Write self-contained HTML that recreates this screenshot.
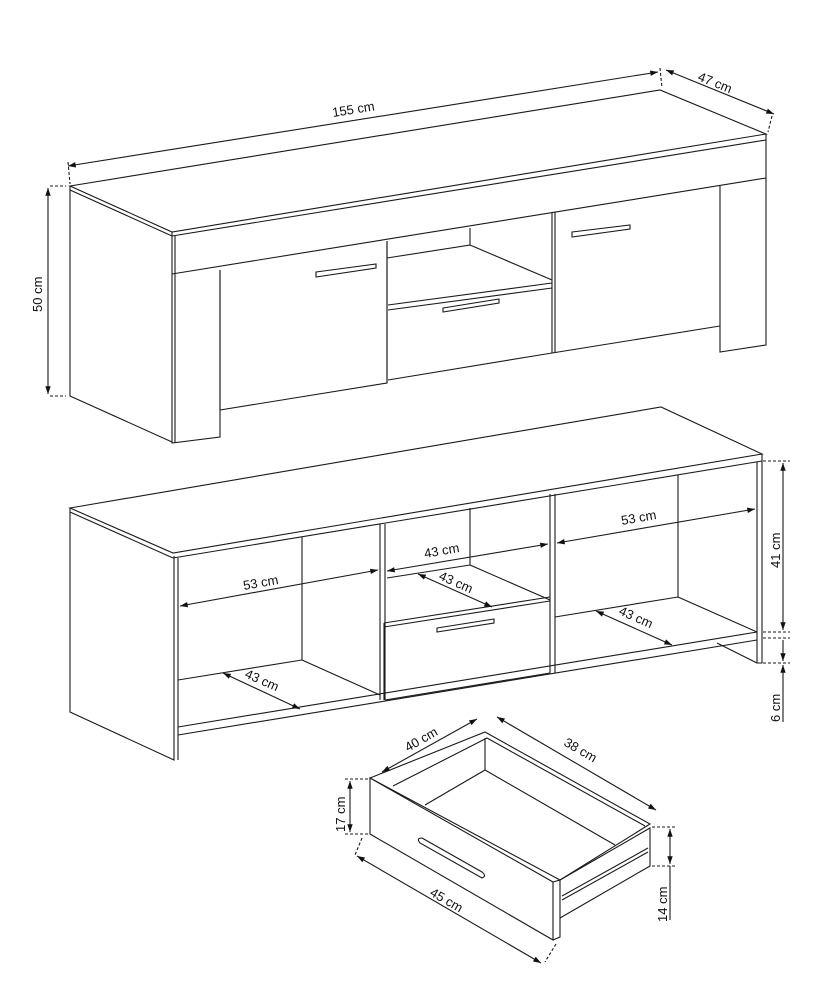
<!DOCTYPE html>
<html><head><meta charset="utf-8"><style>
html,body{margin:0;padding:0;background:#fff;}
svg{display:block;}
text{font-family:"Liberation Sans",sans-serif;font-size:13px;fill:#111;}
</style></head><body>
<svg width="826" height="985" viewBox="0 0 826 985" xmlns="http://www.w3.org/2000/svg">
<defs>
<marker id="a" viewBox="0 0 10 10" refX="10" refY="5" markerWidth="9" markerHeight="7" orient="auto-start-reverse"><path d="M0,1.5 L10,5 L0,8.5 z" fill="#111"/></marker>
</defs>
<g fill="none" stroke="#1a1a1a" stroke-width="1.1">
<!-- TOP CABINET -->
<path d="M70,186 L660,90 L766,134 L172,232 Z" fill="#fff"/>
<path d="M172,232 L172,443 L220,437 L220,270"/>
<path d="M175,236 L175,443"/>
<path d="M70,186 L70,396 L172,442"/>
<path d="M70,190 L172,236"/>
<path d="M172,236 L766,140"/>
<path d="M766,134 L766,178 L172,274"/>
<path d="M220,270 L220,410 L387,383 L387,241"/>
<path d="M387,241 L387,383"/>
<path d="M388,305 L552,283 M388,310 L552,288 M388,380 L552,353"/>
<path d="M552,212 L552,353 L720,326"/>
<path d="M555,212 L555,353"/>
<path d="M720,186 L720,352 L766,345 L766,178"/>
<path d="M387,258 L470,245 L470,228"/>
<path d="M470,245 L552,280"/>
<rect x="0" y="0" width="0" height="0"/>
<path d="M316,272 L376,264 L376,268 L316,277 Z"/>
<path d="M443,308 L499,299 L499,303 L443,312 Z"/>
<path d="M572,232 L630,225 L630,229 L572,237 Z"/>
<!-- dims top -->
<path d="M50,186 L66,186 M50,396 L66,396" stroke-dasharray="3,2"/>
<path d="M48,188 L48,394" marker-start="url(#a)" marker-end="url(#a)"/>
<path d="M68,166 L658,72" marker-start="url(#a)" marker-end="url(#a)"/>
<path d="M68,162 L70,184 M660,68 L662,88" stroke-dasharray="3,2"/>
<path d="M666,70 L774,114" marker-start="url(#a)" marker-end="url(#a)"/>
<path d="M772,116 L768,132" stroke-dasharray="3,2"/>

<!-- MIDDLE CABINET -->
<path d="M70,508 L661,407 L762,454 L173,553 Z" fill="#fff"/>
<path d="M70,508 L70,712 L174,760 L174,556"/>
<path d="M70,512 L173,558"/>
<path d="M173,558 L762,461"/>
<path d="M178,558 L178,760"/>
<path d="M757,462 L757,663 L762,663 L762,454"/>
<path d="M717,643 L757,663"/>
<path d="M178,727 L757,632 M178,735 L757,640"/>
<path d="M302,537 L302,660 L380,695"/>
<path d="M178,680 L302,660"/>
<path d="M380,524 L380,700 M385,524 L385,700"/>
<path d="M550,494 L550,673 M555,494 L555,673"/>
<path d="M470,508 L470,565 L550,600"/>
<path d="M387,578 L470,565"/>
<path d="M384,627 L550,601 M384,623 L550,597 M385,700 L550,673 M384,623 L384,700"/>
<path d="M437,628 L494,619 L494,623 L437,632 Z"/>
<path d="M678,475 L678,597 L757,632"/>
<path d="M555,617 L678,597"/>
<!-- dims middle -->
<path d="M180,606 L378,570" marker-start="url(#a)" marker-end="url(#a)"/>
<path d="M387,571 L548,544" marker-start="url(#a)" marker-end="url(#a)"/>
<path d="M557,543 L755,509" marker-start="url(#a)" marker-end="url(#a)"/>
<path d="M223,673 L300,709" marker-start="url(#a)" marker-end="url(#a)"/>
<path d="M418,574 L492,607" marker-start="url(#a)" marker-end="url(#a)"/>
<path d="M596,611 L672,645" marker-start="url(#a)" marker-end="url(#a)"/>
<path d="M763,461 L790,461 M763,632 L790,632 M763,638 L790,638 M763,663 L790,663" stroke-dasharray="3,2"/>
<path d="M783,463 L783,630" marker-start="url(#a)" marker-end="url(#a)"/>
<path d="M783,640 L783,661" marker-end="url(#a)"/>
<path d="M783,665 L783,722" marker-start="url(#a)"/>

<!-- DRAWER -->
<path d="M370,778 L485,732 L650,824 L560,880 Z" fill="#fff"/>
<path d="M393,786 L487,738 L645,826"/>
<path d="M370,778 L553,882 L553,940 L370,834 Z" fill="#fff"/>
<path d="M553,882 L560,880 L560,937 L553,940"/>
<path d="M485,738 L485,770 L425,805 M485,770 L615,845"/>
<path d="M560,880 L650,828 L650,866 L560,918"/>
<path d="M562,896 L648,848 M562,900 L648,852"/>
<path d="M422,838 L482,872 Q487,876 482,878 L420,843 Q416,838 422,838 Z"/>
<path d="M382,772 L477,719" marker-start="url(#a)" marker-end="url(#a)"/>
<path d="M497,717 L656,810" marker-start="url(#a)" marker-end="url(#a)"/>
<path d="M357,856 L541,963" marker-start="url(#a)" marker-end="url(#a)"/>
<path d="M345,779 L368,779 M345,834 L368,834 M362,838 L355,855 M556,944 L545,962" stroke-dasharray="3,2"/>
<path d="M350,781 L350,832" marker-start="url(#a)" marker-end="url(#a)"/>
<path d="M652,827 L677,827 M652,866 L677,866" stroke-dasharray="3,2"/>
<path d="M670,829 L670,864" marker-start="url(#a)" marker-end="url(#a)"/>
<path d="M670,866 L670,920"/>
</g>
<g>
<text x="0" y="0" transform="translate(333,117) rotate(-9)">155 cm</text>
<text x="0" y="0" transform="translate(697,80) rotate(22)">47 cm</text>
<text x="0" y="0" transform="translate(42,312) rotate(-90)">50 cm</text>
<text x="0" y="0" transform="translate(244,590) rotate(-10)">53 cm</text>
<text x="0" y="0" transform="translate(425,558) rotate(-10)">43 cm</text>
<text x="0" y="0" transform="translate(622,525) rotate(-10)">53 cm</text>
<text x="0" y="0" transform="translate(244,677) rotate(24)">43 cm</text>
<text x="0" y="0" transform="translate(438,579) rotate(24)">43 cm</text>
<text x="0" y="0" transform="translate(618,614) rotate(24)">43 cm</text>
<text x="0" y="0" transform="translate(780,568) rotate(-90)">41 cm</text>
<text x="0" y="0" transform="translate(780,722) rotate(-90)">6 cm</text>
<text x="0" y="0" transform="translate(408,752) rotate(-30)">40 cm</text>
<text x="0" y="0" transform="translate(563,745) rotate(30)">38 cm</text>
<text x="0" y="0" transform="translate(429,895) rotate(30)">45 cm</text>
<text x="0" y="0" transform="translate(345,832) rotate(-90)">17 cm</text>
<text x="0" y="0" transform="translate(667,922) rotate(-90)">14 cm</text>
</g>
</svg>
</body></html>
